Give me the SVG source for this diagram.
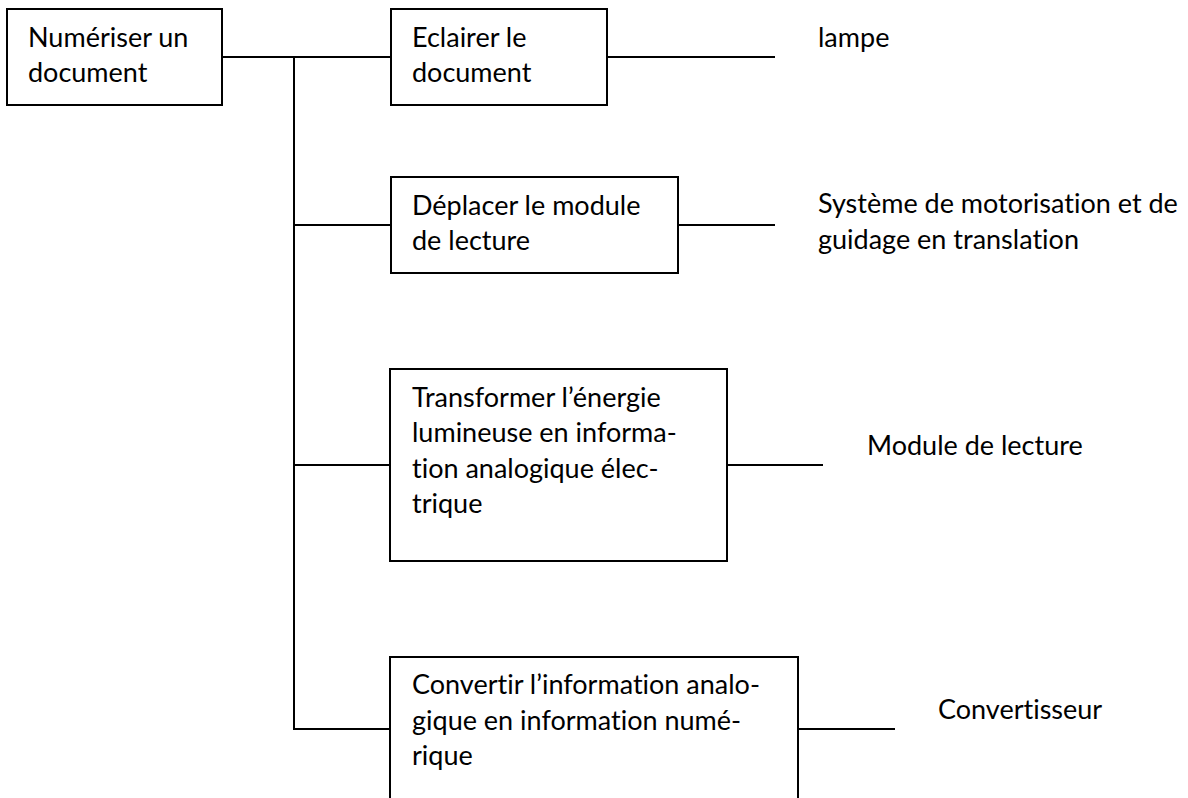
<svg xmlns="http://www.w3.org/2000/svg" width="1188" height="798" viewBox="0 0 1188 798">
<style>
.box{fill:#fff;stroke:#000;stroke-width:2}
.ln{stroke:#000;stroke-width:2;fill:none}
text{font-family:Lato,"Open Sans","Liberation Sans",sans-serif;font-size:27px;fill:#000;font-variant-ligatures:none}
</style>
<rect width="1188" height="798" fill="#fff"/>
<g id="connectors">
<line class="ln" x1="222" y1="57" x2="391" y2="57"/>
<line class="ln" x1="294" y1="57" x2="294" y2="730"/>
<line class="ln" x1="294" y1="225" x2="391" y2="225"/>
<line class="ln" x1="294" y1="465" x2="390" y2="465"/>
<line class="ln" x1="293" y1="729" x2="390" y2="729"/>
<line class="ln" x1="607" y1="57" x2="775" y2="57"/>
<line class="ln" x1="678" y1="225" x2="775" y2="225"/>
<line class="ln" x1="727" y1="465" x2="823" y2="465"/>
<line class="ln" x1="798" y1="729" x2="895" y2="729"/>
</g>
<g id="n-numeriser">
<rect class="box" x="7" y="9" width="215" height="96"/>
<text x="28" y="47">Numériser un</text>
<text x="28" y="82">document</text>
</g>
<g id="n-eclairer">
<rect class="box" x="391" y="9" width="216" height="96"/>
<text x="412" y="47">Eclairer le</text>
<text x="412" y="82">document</text>
</g>
<g id="n-deplacer">
<rect class="box" x="391" y="177" width="287" height="96"/>
<text x="412" y="215">Déplacer le module</text>
<text x="412" y="250">de lecture</text>
</g>
<g id="n-transformer">
<rect class="box" x="390" y="369" width="337" height="192"/>
<text x="412" y="407">Transformer l’énergie</text>
<text x="412" y="442">lumineuse en informa-</text>
<text x="412" y="478">tion analogique élec-</text>
<text x="412" y="513">trique</text>
</g>
<g id="n-convertir">
<rect class="box" x="390" y="657" width="408" height="160"/>
<text x="412" y="694">Convertir l’information analo-</text>
<text x="412" y="730">gique en information numé-</text>
<text x="412" y="765">rique</text>
</g>
<g id="n-lampe">
<text x="818" y="47">lampe</text>
</g>
<g id="n-systeme">
<text x="818" y="213">Système de motorisation et de</text>
<text x="818" y="249">guidage en translation</text>
</g>
<g id="n-module">
<text x="867" y="455">Module de lecture</text>
</g>
<g id="n-convertisseur">
<text x="938" y="719">Convertisseur</text>
</g>
</svg>
